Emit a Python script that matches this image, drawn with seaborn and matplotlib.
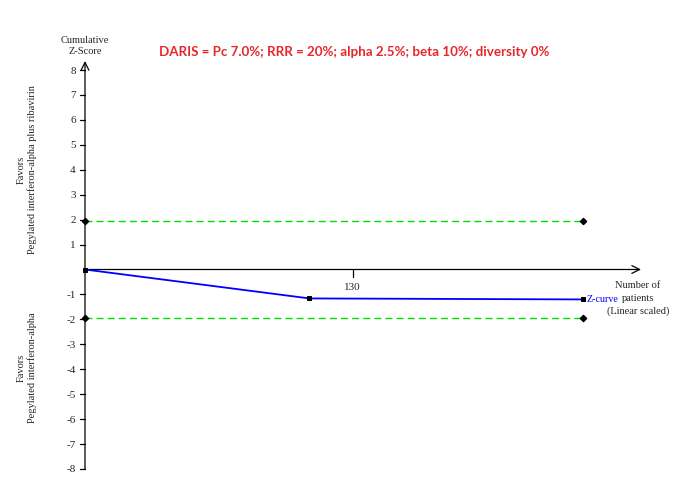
import numpy as np
import pandas as pd
import matplotlib.pyplot as plt
import seaborn as sns

# values
patients = [0, 109, 242]
z_curve = [0.0, -1.16, -1.20]
boundary_x = [0, 242]
boundary_z = 1.96
y_ticks = [-8, -7, -6, -5, -4, -3, -2, -1, 1, 2, 3, 4, 5, 6, 7, 8]
x_ticks = [130]

title = "DARIS = Pc 7.0%; RRR = 20%; alpha 2.5%; beta 10%; diversity 0%"
x_label_lines = ['Number of', 'patients', '(Linear scaled)']

sns.set_theme(style="white")
plt.rcParams['font.family'] = ['Liberation Serif', 'DejaVu Serif']

W, H = 700, 502
fig = plt.figure(figsize=(7, 5.02), dpi=100)
# axes placed so that x=0 sits at pixel 85 and y=+-8 at pixels 71/470
ax = fig.add_axes([85 / W, (H - 470) / H, (641 - 85) / W, (470 - 71) / H])
ax.set_xlim(0, 270)
ax.set_ylim(-8, 8)
ax.axis('off')

# boundary lines
for z in (boundary_z, -boundary_z):
    ax.plot(boundary_x, [z, z], color='#00dd00', lw=1, ls=(0, (5, 3)), zorder=1)
    ax.scatter(boundary_x, [z, z], marker='D', s=10, color='black', zorder=3, clip_on=False)

# z-curve
df = pd.DataFrame({'patients': patients, 'z': z_curve})
sns.lineplot(data=df, x='patients', y='z', ax=ax, color='#0000ff', lw=1.3,
             marker='s', markersize=3.5, markerfacecolor='black', markeredgecolor='black',
             zorder=4, clip_on=False)
ax.text(patients[-1] + 1.5, z_curve[-1] + 0.05, 'Z-curve', color='#0000ff', fontsize=7.2,
        ha='left', va='center')

# axes drawn as arrows
ax.annotate('', xy=(0, 8.36), xytext=(0, -8), xycoords='data',
            arrowprops=dict(arrowstyle='->', color='black', lw=0.9,
                            mutation_scale=14, shrinkA=0, shrinkB=0),
            annotation_clip=False)
ax.annotate('', xy=(270, 0), xytext=(0, 0), xycoords='data',
            arrowprops=dict(arrowstyle='->', color='black', lw=0.9,
                            mutation_scale=14, shrinkA=0, shrinkB=0),
            annotation_clip=False)

# y ticks
for t in y_ticks:
    ax.plot([-2.6, 0], [t, t], color='black', lw=0.9, clip_on=False)
    ax.text(-4.5, t, str(t), ha='right', va='center', fontsize=8)
for t in x_ticks:
    ax.plot([t, t], [0, -0.3], color='black', lw=0.9, clip_on=False)
    ax.text(t, -0.5, str(t), ha='center', va='top', fontsize=8)

fig.text(85 / W, 1 - 46 / H, 'Cumulative\nZ-Score', ha='center', va='center',
         fontsize=7.5, linespacing=1.25)
# x-axis label, one text per line
for i, line in enumerate(x_label_lines):
    fig.text(638 / W, 1 - (286 + 12.5 * i) / H, line, ha='center', va='center',
             fontsize=7.5)
fig.text(27 / W, 1 - 170 / H, 'Favors\nPegylated interferon-alpha plus ribavirin',
         rotation=90, ha='center', va='center', fontsize=7.5, linespacing=1.2)
fig.text(27 / W, 1 - 368 / H, 'Favors\nPegylated interferon-alpha',
         rotation=90, ha='center', va='center', fontsize=7.5, linespacing=1.2)

fig.text(354 / W, 1 - 52 / H, title, ha='center', va='center', color='#e8262a',
         fontsize=9.6, fontweight='bold', family=['Lato', 'DejaVu Sans'])

fig.savefig('out.png', dpi=100, facecolor='white')
